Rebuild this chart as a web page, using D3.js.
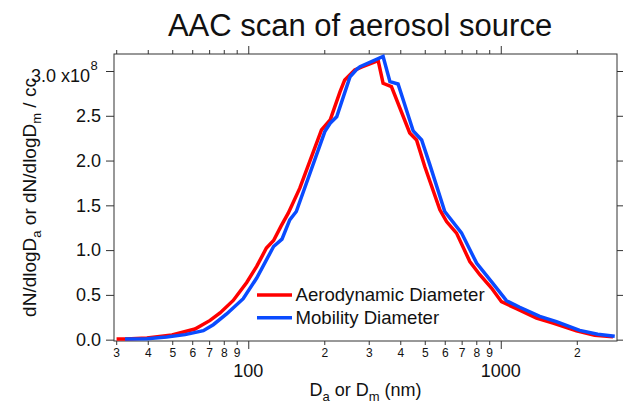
<!DOCTYPE html>
<html>
<head>
<meta charset="utf-8">
<script src="https://cdn.jsdelivr.net/npm/d3@7"></script>
<style>
  body { margin: 0; background: #fff; }
  svg { display: block; }
  text { font-family: "Liberation Sans", Arial, Helvetica, sans-serif; fill: #111; }
</style>
</head>
<body>
<svg id="chart" width="623" height="403"></svg>
<script>
// Aerodynamic size distribution: diameter (nm) and dN/dlogDa (x10^8 per cc)
const aeroDiam = [30.1, 32.8, 39.7, 49.9, 61.5, 70.6, 77.3, 87.2, 98.6, 108, 118, 126, 135, 144, 160, 195, 211, 231, 241, 264, 282, 327, 342, 369, 436, 464, 500, 574, 610, 668, 754, 826, 919, 1006, 1154, 1385, 1611, 1994, 2355, 2783];
const aeroConc = [0.006, 0.008, 0.019, 0.052, 0.119, 0.215, 0.298, 0.438, 0.639, 0.818, 1.023, 1.107, 1.271, 1.413, 1.692, 2.342, 2.453, 2.769, 2.900, 3.011, 3.045, 3.117, 2.863, 2.825, 2.308, 2.230, 1.933, 1.450, 1.319, 1.190, 0.873, 0.725, 0.577, 0.424, 0.346, 0.242, 0.186, 0.100, 0.050, 0.033];

// Mobility size distribution: diameter (nm) and dN/dlogDm (x10^8 per cc)
const mobDiam = [32.5, 39.7, 47.5, 56.2, 66.4, 72.7, 82.1, 95.5, 108, 126, 136, 146, 155, 201, 211, 224, 253, 269, 277, 342, 364, 392, 450, 486, 524, 600, 699, 802, 932, 1053, 1189, 1427, 1661, 2054, 2420, 2827];
const mobConc = [0.006, 0.011, 0.030, 0.056, 0.100, 0.167, 0.287, 0.457, 0.688, 1.040, 1.123, 1.338, 1.431, 2.323, 2.417, 2.490, 2.936, 3.019, 3.048, 3.162, 2.881, 2.855, 2.331, 2.230, 1.952, 1.431, 1.193, 0.855, 0.625, 0.435, 0.362, 0.260, 0.201, 0.104, 0.061, 0.039];

const seriesNames = ["Aerodynamic Diameter", "Mobility Diameter"];
const seriesColors = ["#ff0000", "#0a4bff"];

const yTicks = [0, 0.5, 1.0, 1.5, 2.0, 2.5, 3.0];
const xMajorTicks = [100, 1000];
const xMinorTicks = [30, 40, 50, 60, 70, 80, 90, 200, 300, 400, 500, 600, 700, 800, 900, 2000];

const svg = d3.select("#chart");
const plotL = 114, plotR = 617, plotT = 54, plotB = 341;

const x = d3.scaleLog().domain([29.4, 2886]).range([plotL, plotR]);
const y = d3.scaleLinear().domain([-0.015, 3.19]).range([plotB, plotT]);

const minorLabel = d => String(Math.round(d / Math.pow(10, Math.floor(Math.log10(d) + 1e-9))));

// bottom axis
const gB = svg.append("g").attr("transform", `translate(0,${plotB})`)
  .call(d3.axisBottom(x).tickValues(xMinorTicks.concat(xMajorTicks)).tickSize(4).tickSizeOuter(0).tickPadding(3)
    .tickFormat(d => xMajorTicks.includes(d) ? "" : minorLabel(d)));
gB.selectAll(".tick line").attr("y2", d => xMajorTicks.includes(d) ? 8 : 4);
gB.selectAll(".tick text").style("font-size", "12px").attr("fill", "#111");

// top axis (ticks only)
const gT = svg.append("g").attr("transform", `translate(0,${plotT})`)
  .call(d3.axisTop(x).tickValues(xMinorTicks.concat(xMajorTicks)).tickSize(4).tickSizeOuter(0).tickFormat(""));
gT.selectAll(".tick line").attr("y2", d => xMajorTicks.includes(d) ? -8 : -4);

// left axis
const gL = svg.append("g").attr("transform", `translate(${plotL},0)`)
  .call(d3.axisLeft(y).tickValues(yTicks).tickSize(8).tickSizeOuter(0).tickPadding(5)
    .tickFormat(d => d === 3.0 ? "" : d3.format(".1f")(d)));
gL.selectAll(".tick text").style("font-size", "18px").attr("fill", "#111");

// right axis (ticks only)
svg.append("g").attr("transform", `translate(${plotR},0)`)
  .call(d3.axisRight(y).tickValues(yTicks).tickSize(6).tickSizeOuter(0).tickFormat(""));

svg.selectAll(".domain").remove();
svg.selectAll(".tick line").attr("stroke", "#333");

// plot frame
svg.append("rect").attr("x", plotL).attr("y", plotT).attr("width", plotR - plotL).attr("height", plotB - plotT)
  .attr("fill", "none").attr("stroke", "#333").attr("stroke-width", 1);

// top y label with exponent
svg.append("text").attr("x", 90).attr("y", y(3.0) + 11).attr("text-anchor", "end").style("font-size", "18px")
  .text("3.0 x10");
svg.append("text").attr("x", 90.5).attr("y", y(3.0) - 1.5).style("font-size", "13px").text("8");

// decade labels
xMajorTicks.forEach(d => {
  svg.append("text").attr("x", x(d)).attr("y", 377).attr("text-anchor", "middle").style("font-size", "18px").text(d);
});

// curves
const line = d3.line().x(p => x(p[0])).y(p => y(p[1]));
const aeroPts = aeroDiam.map((d, i) => [d, aeroConc[i]]);
const mobPts = mobDiam.map((d, i) => [d, mobConc[i]]);
[aeroPts, mobPts].forEach((pts, i) => {
  svg.append("path").datum(pts).attr("d", line).attr("fill", "none")
    .attr("stroke", seriesColors[i]).attr("stroke-width", 3.5).attr("stroke-linejoin", "miter");
});

// legend
seriesNames.forEach((name, i) => {
  const ly = 295 + i * 22.7;
  svg.append("line").attr("x1", 257).attr("x2", 292).attr("y1", ly).attr("y2", ly)
    .attr("stroke", seriesColors[i]).attr("stroke-width", 3.5);
  svg.append("text").attr("x", 295.5).attr("y", ly + 6.3).style("font-size", "18.6px").text(name);
});

// title
svg.append("text").attr("x", 360).attr("y", 36).attr("text-anchor", "middle").style("font-size", "31px")
  .text("AAC scan of aerosol source");

// x axis title
const xt = svg.append("text").attr("x", 365.5).attr("y", 396).attr("text-anchor", "middle").style("font-size", "18px");
xt.append("tspan").text("D");
xt.append("tspan").attr("dy", 5).style("font-size", "13px").text("a");
xt.append("tspan").attr("dy", -5).text(" or D");
xt.append("tspan").attr("dy", 5).style("font-size", "13px").text("m");
xt.append("tspan").attr("dy", -5).text(" (nm)");

// y axis title
const yt = svg.append("text").attr("transform", `translate(36,${(plotT + plotB) / 2}) rotate(-90)`)
  .attr("text-anchor", "middle").style("font-size", "19px");
yt.append("tspan").text("dN/dlogD");
yt.append("tspan").attr("dy", 5).style("font-size", "13px").text("a");
yt.append("tspan").attr("dy", -5).text(" or dN/dlogD");
yt.append("tspan").attr("dy", 5).style("font-size", "13px").text("m");
yt.append("tspan").attr("dy", -5).text(" / cc");
</script>
</body>
</html>
